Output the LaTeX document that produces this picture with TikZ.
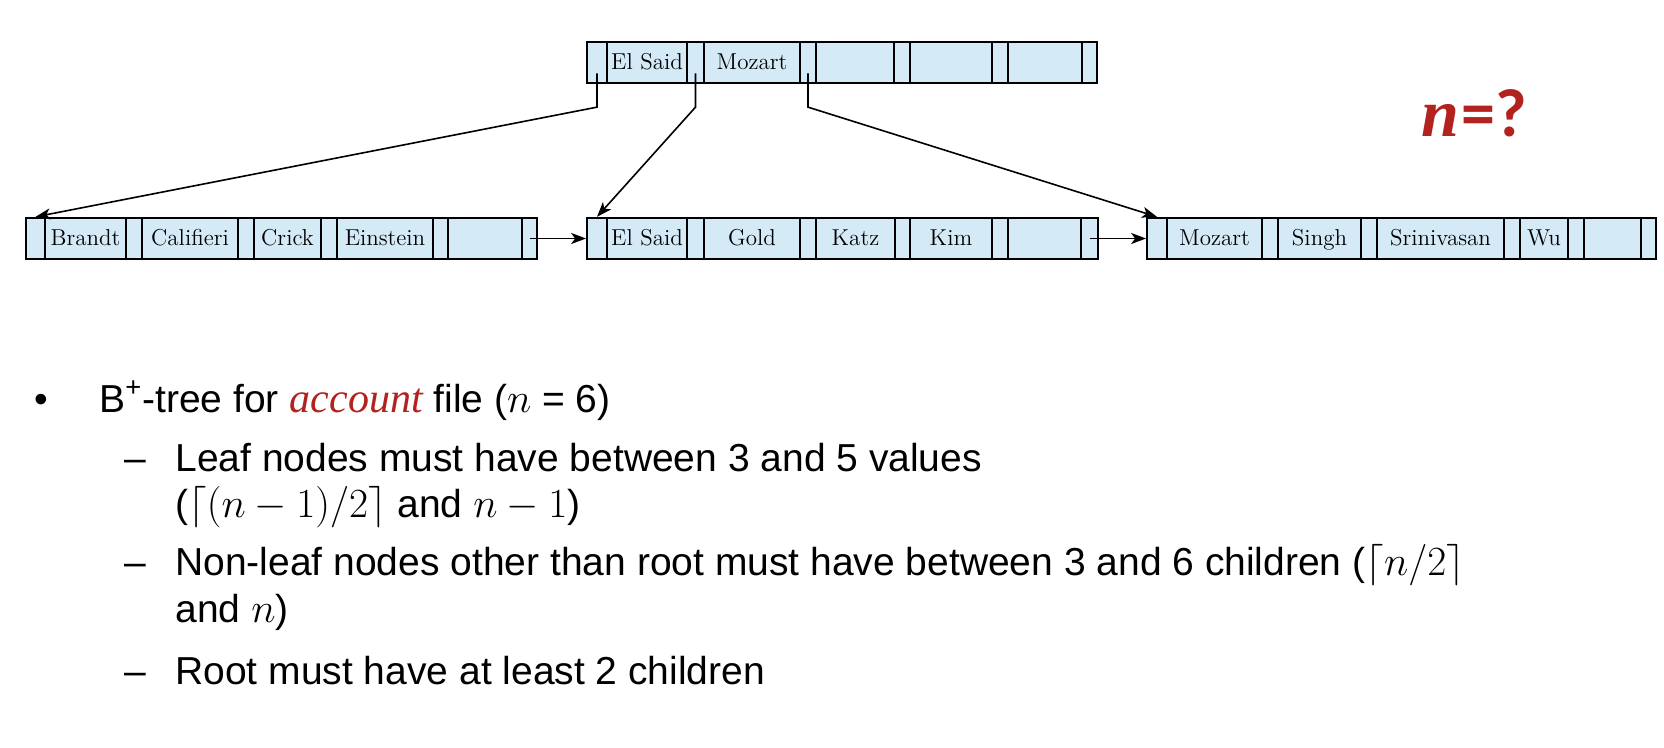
\documentclass[tikz,border=0pt]{standalone}
\usepackage{fontspec}
\usetikzlibrary{arrows.meta,calc}
\newfontfamily\arialfont{Liberation Sans}
\newfontfamily\timesfont{Liberation Serif}
\newfontfamily\calfont{Carlito}
\definecolor{cellfill}{RGB}{213,234,247}
\definecolor{slidered}{RGB}{178,34,30}
\newcommand\bcell[5]{\node[cell, minimum width={(#3-#2)*0.5pt}] (#1) at ({(#2+#3)/2},#4) {#5};}
\begin{document}
\begin{tikzpicture}[x=0.5pt,y=-0.5pt,
  cell/.style={draw=black, line width=0.9pt, fill=cellfill, inner sep=0pt,
    minimum height=20.75pt, text height=9pt, text depth=1.5pt,
    font=\fontsize{11.5}{13}\selectfont},
  ptr/.style={line width=0.8pt, -{Stealth[length=7.5pt,width=5.5pt,inset=2pt]}},
  body/.style={anchor=base west, inner sep=0pt, font=\arialfont\fontsize{19.5}{23}\selectfont},
]
\useasboundingbox (0,0) rectangle (1664,748);
% root
\bcell{rp1}{587}{607}{62.5}{}
\bcell{rk1}{607}{687}{62.5}{El Said}
\bcell{rp2}{687}{704}{62.5}{}
\bcell{rk2}{704}{800}{62.5}{Mozart}
\bcell{rp3}{800}{816}{62.5}{}
\bcell{rk3}{816}{894}{62.5}{}
\bcell{rp4}{894}{910}{62.5}{}
\bcell{rk4}{910}{992}{62.5}{}
\bcell{rp5}{992}{1008}{62.5}{}
\bcell{rk5}{1008}{1082}{62.5}{}
\bcell{rp6}{1082}{1097}{62.5}{}
% leaf 1
\bcell{ap1}{26}{45}{238.5}{}
\bcell{ak1}{45}{126}{238.5}{Brandt}
\bcell{ap2}{126}{142}{238.5}{}
\bcell{ak2}{142}{238}{238.5}{Califieri}
\bcell{ap3}{238}{254}{238.5}{}
\bcell{ak3}{254}{321}{238.5}{Crick}
\bcell{ap4}{321}{337}{238.5}{}
\bcell{ak4}{337}{433}{238.5}{Einstein}
\bcell{ap5}{433}{448}{238.5}{}
\bcell{ak5}{448}{522}{238.5}{}
\bcell{ap6}{522}{537}{238.5}{}
% leaf 2
\bcell{bp1}{587}{607}{238.5}{}
\bcell{bk1}{607}{687}{238.5}{El Said}
\bcell{bp2}{687}{704}{238.5}{}
\bcell{bk2}{704}{800}{238.5}{Gold}
\bcell{bp3}{800}{816}{238.5}{}
\bcell{bk3}{816}{895}{238.5}{Katz}
\bcell{bp4}{895}{910}{238.5}{}
\bcell{bk4}{910}{992}{238.5}{Kim}
\bcell{bp5}{992}{1008}{238.5}{}
\bcell{bk5}{1008}{1081}{238.5}{}
\bcell{bp6}{1081}{1098}{238.5}{}
% leaf 3
\bcell{cp1}{1147}{1167}{238.5}{}
\bcell{ck1}{1167}{1262}{238.5}{Mozart}
\bcell{cp2}{1262}{1278}{238.5}{}
\bcell{ck2}{1278}{1361}{238.5}{Singh}
\bcell{cp3}{1361}{1377}{238.5}{}
\bcell{ck3}{1377}{1504}{238.5}{Srinivasan}
\bcell{cp4}{1504}{1520}{238.5}{}
\bcell{ck4}{1520}{1568}{238.5}{Wu}
\bcell{cp5}{1568}{1584}{238.5}{}
\bcell{ck5}{1584}{1641}{238.5}{}
\bcell{cp6}{1641}{1656}{238.5}{}
% tree pointers
\coordinate (bend1) at ($(rp1.south)+(0,23)$);
\coordinate (bend2) at ($(rp2.south)+(0,23)$);
\coordinate (bend3) at ($(rp3.south)+(0,23)$);
\draw[ptr] ($(rp1.center)!.5!(rp1.south)$) -- (bend1) -- (ap1.north);
\draw[ptr] ($(rp2.center)!.5!(rp2.south)$) -- (bend2) -- (bp1.north);
\draw[ptr] ($(rp3.center)!.5!(rp3.south)$) -- (bend3) -- (cp1.north);
% sibling pointers
\draw[ptr] (ap6.center) -- (bp1.west);
\draw[ptr] (bp6.center) -- (cp1.west);
% n=?
\node[anchor=base west, inner sep=0pt, text=slidered] (nq) at (1421,137)
  {\timesfont\bfseries\itshape\fontsize{34}{34}\selectfont n\kern1pt\calfont\upshape=?};
% bullet text
\node[body] (bul) at (34,412) {•};
\node[body] (t1) at (99,412) {B\textsuperscript{+}-tree for {\timesfont\itshape\color{slidered}\fontsize{21}{23}\selectfont account} file ($n$ = 6)};
\node[body] (d1) at (124,471) {–};
\node[body] (t2) at (175,471) {Leaf nodes must have between 3 and 5 values};
\node[body] (t3) at (175,517) {($\lceil(n-1)/2\rceil$ and $n-1$)};
\node[body] (d2) at (124,575) {–};
\node[body] (t4) at (175,575) {Non-leaf nodes other than root must have between 3 and 6 children ($\lceil n/2\rceil$};
\node[body] (t5) at (175,622) {and $n$)};
\node[body] (d3) at (124,684) {–};
\node[body] (t6) at (175,684) {Root must have at least 2 children};
\end{tikzpicture}
\end{document}
